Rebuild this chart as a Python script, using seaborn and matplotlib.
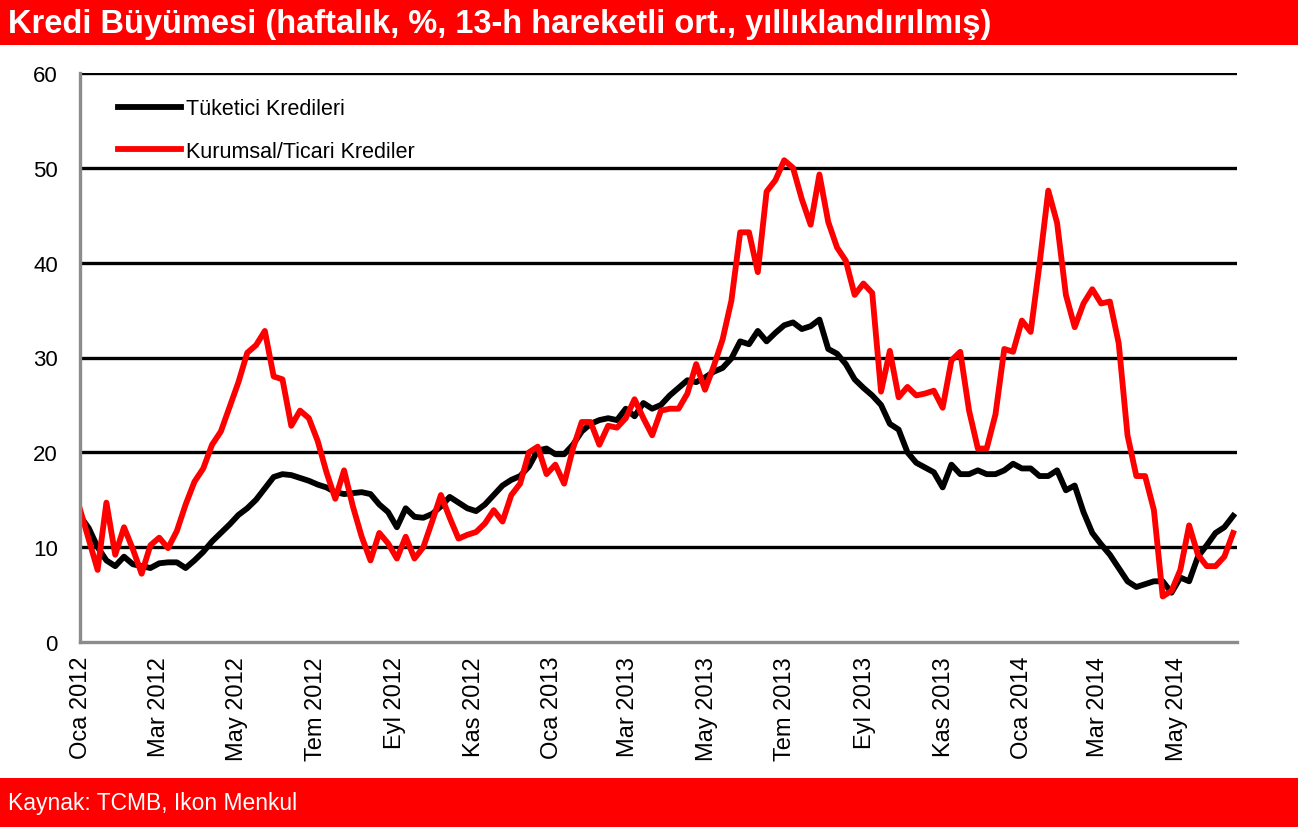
import numpy as np
import pandas as pd
import seaborn as sns
import matplotlib.pyplot as plt
import matplotlib.dates as mdates
from matplotlib import font_manager
from matplotlib.patches import Rectangle
from matplotlib.ticker import FuncFormatter

# haftalik veri, 13-h hareketli ort., yilliklandirilmis (%)
tuketici = [13.3, 12.0, 10.0, 8.6, 8.0, 9.0, 8.2, 8.0, 7.8, 8.3,
            8.4, 8.4, 7.8, 8.6, 9.5, 10.6, 11.5, 12.4, 13.4, 14.1,
            15.0, 16.2, 17.4, 17.7, 17.6, 17.3, 17.0, 16.6, 16.3, 15.8,
            15.6, 15.7, 15.8, 15.6, 14.5, 13.7, 12.1, 14.1, 13.2, 13.1,
            13.5, 14.3, 15.3, 14.7, 14.1, 13.8, 14.5, 15.5, 16.5, 17.1,
            17.5, 18.5, 20.2, 20.4, 19.8, 19.8, 20.8, 22.2, 23.0, 23.4,
            23.6, 23.4, 24.6, 23.8, 25.2, 24.6, 25.0, 26.0, 26.8, 27.6,
            27.4, 27.9, 28.5, 28.9, 29.9, 31.7, 31.4, 32.8, 31.7, 32.6,
            33.4, 33.7, 33.0, 33.3, 34.0, 30.9, 30.4, 29.3, 27.7, 26.8,
            26.0, 25.0, 23.0, 22.4, 20.0, 18.9, 18.4, 17.9, 16.3, 18.7,
            17.7, 17.7, 18.1, 17.7, 17.7, 18.1, 18.8, 18.3, 18.3, 17.5,
            17.5, 18.1, 16.0, 16.5, 13.7, 11.5, 10.3, 9.2, 7.8, 6.4,
            5.8, 6.1, 6.4, 6.4, 5.2, 6.8, 6.4, 9.0, 10.2, 11.5,
            12.1, 13.3]

kurumsal = [14.0, 10.8, 7.6, 14.7, 9.2, 12.1, 9.8, 7.2, 10.2, 11.0,
            9.9, 11.7, 14.5, 16.9, 18.3, 20.8, 22.2, 24.8, 27.4, 30.5,
            31.3, 32.8, 28.0, 27.7, 22.8, 24.4, 23.6, 21.2, 17.9, 15.1,
            18.1, 14.3, 11.1, 8.6, 11.5, 10.4, 8.8, 11.1, 8.8, 10.0,
            12.7, 15.5, 13.1, 10.9, 11.3, 11.6, 12.5, 13.9, 12.7, 15.5,
            16.7, 20.0, 20.6, 17.7, 18.7, 16.7, 20.4, 23.2, 23.2, 20.8,
            22.8, 22.6, 23.6, 25.6, 23.6, 21.8, 24.4, 24.6, 24.6, 26.2,
            29.3, 26.6, 29.1, 31.9, 36.0, 43.2, 43.2, 39.0, 47.5, 48.7,
            50.8, 50.0, 46.7, 44.0, 49.3, 44.3, 41.6, 40.2, 36.6, 37.8,
            36.8, 26.4, 30.7, 25.8, 26.9, 26.0, 26.2, 26.5, 24.7, 29.7,
            30.6, 24.4, 20.4, 20.4, 24.0, 30.9, 30.6, 33.9, 32.7, 39.8,
            47.6, 44.2, 36.6, 33.2, 35.7, 37.2, 35.7, 35.9, 31.5, 21.8,
            17.5, 17.5, 13.9, 4.8, 5.4, 7.6, 12.3, 9.2, 8.0, 8.0,
            9.0, 11.5]

seri_adlari = ["Tüketici Kredileri", "Kurumsal/Ticari Krediler"]
renkler = ["#000000", "#ff0000"]
ay_adlari = ["Oca", "Şub", "Mar", "Nis", "May", "Haz",
             "Tem", "Ağu", "Eyl", "Eki", "Kas", "Ara"]
y_ticks = [0, 10, 20, 30, 40, 50, 60]
baslik = "Kredi Büyümesi (haftalık, %, 13-h hareketli ort., yıllıklandırılmış)"
kaynak = "Kaynak: TCMB, Ikon Menkul"

n = len(tuketici)
tarihler = pd.date_range("2011-12-31", "2014-06-14", periods=n)
df = pd.DataFrame({
    "tarih": np.tile(tarihler, 2),
    "deger": tuketici + kurumsal,
    "seri": np.repeat(seri_adlari, n),
})

names = {f.name for f in font_manager.fontManager.ttflist}
dar = "Liberation Sans Narrow" in names
plt.rcParams["font.family"] = ["Liberation Sans", "DejaVu Sans"]
bant_font = ["Liberation Sans Narrow", "Liberation Sans"] if dar else ["Liberation Sans"]

W, H = 1298, 828
fig = plt.figure(figsize=(W / 100, H / 100), dpi=100)
ax = fig.add_axes([80 / W, 185 / H, 1157 / W, 569 / H])

sns.lineplot(data=df, x="tarih", y="deger", hue="seri", hue_order=seri_adlari,
             palette=dict(zip(seri_adlari, renkler)), linewidth=4.2, ax=ax)

ax.set_ylim(0, 60)
ax.set_yticks(y_ticks)
ax.set_xlim(pd.Timestamp("2011-12-31"), pd.Timestamp("2014-06-17"))
ax.xaxis.set_major_locator(mdates.MonthLocator(bymonth=[1, 3, 5, 7, 9, 11]))
ax.xaxis.set_major_formatter(FuncFormatter(
    lambda v, pos: f"{ay_adlari[mdates.num2date(v).month - 1]} {mdates.num2date(v).year}"))
ax.set_xlabel("")
ax.set_ylabel("")

ax.grid(False)
for y in y_ticks[1:]:
    ax.axhline(y, color="black", linewidth=2.4, zorder=0.5)
for s in ["top", "right"]:
    ax.spines[s].set_visible(False)
for s in ["left", "bottom"]:
    ax.spines[s].set_color("#8c8c8c")
    ax.spines[s].set_linewidth(2.4)
ax.tick_params(axis="y", length=0, pad=16, labelsize=16)
ax.tick_params(axis="x", length=0, pad=10, labelsize=17, rotation=90)

handles, labels = ax.get_legend_handles_labels()
ax.legend(handles, labels, loc="upper left", bbox_to_anchor=(0.033, 0.956),
          frameon=False, fontsize=15.5, handlelength=2.93, handletextpad=0.23,
          labelspacing=1.0, borderpad=0, borderaxespad=0)

# kirmizi baslik ve kaynak bantlari
fig.patches.append(Rectangle((0, 1 - 46 / H), 1, 46 / H, transform=fig.transFigure,
                             facecolor="#ff0000", edgecolor="none", zorder=0))
fig.patches.append(Rectangle((0, 0), 1, 49 / H, transform=fig.transFigure,
                             facecolor="#ff0000", edgecolor="none", zorder=0))
fig.text(8 / W, 1 - 24 / H, baslik, color="white", fontweight="bold",
         fontsize=27 if dar else 23.5, family=bant_font, va="center", ha="left")
fig.text(8 / W, 24 / H, kaynak, color="white",
         fontsize=19 if dar else 16.5, family=bant_font, va="center", ha="left")

fig.savefig("out.png", dpi=100)
